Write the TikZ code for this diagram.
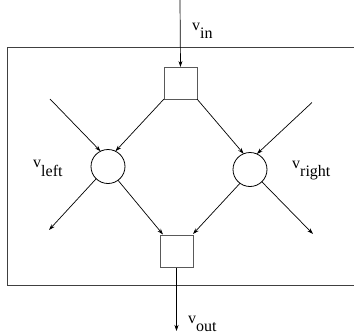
\documentclass[tikz,border=0pt]{standalone}
\usepackage{fontspec}
\setmainfont{Liberation Serif}
\usetikzlibrary{arrows.meta,calc}
\begin{document}
\begin{tikzpicture}[x=1pt,y=-1pt,
  arr/.style={line width=0.7pt,-{Stealth[length=6pt,width=4pt]}},
  sq/.style={draw=black!65,line width=1pt,minimum width=33pt,minimum height=32pt,inner sep=0pt,outer sep=0pt},
  circ/.style={circle,draw=black,line width=0.8pt,minimum size=34pt,inner sep=0pt,outer sep=0pt},
  lbl/.style={inner sep=0pt,anchor=base west,font=\fontsize{16}{18}\selectfont},
  frame/.style={draw=black!75,line width=1pt}]
\useasboundingbox (0,0) rectangle (354,335);
\draw[frame] (354,47) -- (7,47) -- (7,285) -- (354,285);
% nodes
\node[sq] (ts) at (180.5,83) {};
\node[sq] (bs) at (176.5,251.5) {};
\node[circ] (lc) at (108,166.5) {};
\node[circ] (rc) at (250,169.5) {};
\coordinate (top) at (180,0);
\coordinate (bot) at (176.5,331);
\coordinate (lin) at (50,99);
\coordinate (rin) at (312,102.5);
\coordinate (lout) at (49,230);
\coordinate (rout) at (313,234);
% connectors
\draw[arr] (top) -- (ts.north);
\draw[arr] (bs.south) -- (bot);
\draw[arr] (ts.south west) -- (lc.64);
\draw[arr] (lin) -- (lc.116);
\draw[arr] (ts.south east) -- (rc.112);
\draw[arr] (rin) -- (rc.66);
\draw[arr] (lc.226) -- (lout);
\draw[arr] (lc.306) -- ($(bs.north west)+(3,-1)$);
\draw[arr] (rc.234) -- ($(bs.north east)+(0,-1.5)$);
\draw[arr] (rc.314) -- (rout);
% labels
\node[lbl] (vin) at (192,30) {v\raisebox{-8pt}{in}};
\node[lbl] (vleft) at (33,167.5) {v\raisebox{-9pt}{left}};
\node[lbl] (vright) at (292,168) {v\raisebox{-8pt}{right}};
\node[lbl] (vout) at (188,323) {v\raisebox{-8pt}{out}};
\end{tikzpicture}
\end{document}
